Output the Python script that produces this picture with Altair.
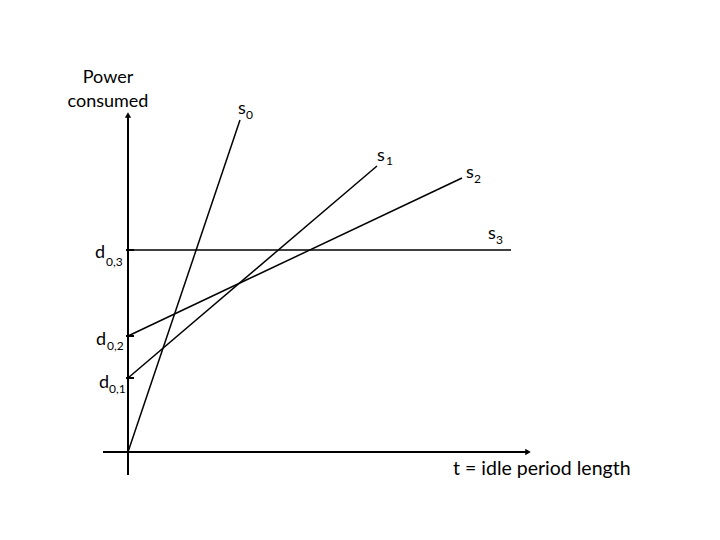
import altair as alt
import pandas as pd

# ---- data (abstract units: t = idle period length, p = power) ----
line_names = ["s0", "s1", "s2", "s3"]
line_t0 = [0.0, 0.0, 0.0, 0.0]
line_p0 = [0.0, 1.85, 2.9, 5.05]
line_t1 = [2.8, 6.225, 8.35, 9.575]
line_p1 = [8.3, 7.15, 6.85, 5.05]

tick_names = ["d0,1", "d0,2", "d0,3"]
tick_values = [1.85, 2.9, 5.05]

axis_x_range = [-0.625, 10.0]
axis_y_range = [-0.575, 8.425]

# label base text + subscript text with anchor positions
base_text = ["s", "s", "s", "s", "d", "d", "d"]
base_t = [2.75, 6.225, 8.45, 9.0, -0.825, -0.8, -0.725]
base_p = [8.45, 7.275, 6.85, 5.325, 4.85, 2.675, 1.6]
sub_text = ["0", "1", "2", "3", "0,3", "0,2", "0,1"]
sub_t = [2.95, 6.45, 8.65, 9.2, -0.55, -0.525, -0.475]
sub_p = [8.325, 7.175, 6.725, 5.2, 4.65, 2.55, 1.475]

title_lines = ["Power", "consumed"]
title_t = [-0.5, -0.5]
title_p = [9.225, 8.625]
xlabel_text = ["t = idle period length"]
xlabel_t = [8.125]
xlabel_p = [-0.575]

FONT = "Lato"

xs = alt.Scale(domain=[-1, 13], nice=False, zero=False)
ys = alt.Scale(domain=[-1, 10], nice=False, zero=False)

lines_df = pd.DataFrame({"name": line_names, "t0": line_t0, "p0": line_p0,
                         "t1": line_t1, "p1": line_p1})
axes_df = pd.DataFrame({
    "t0": [axis_x_range[0], 0.0], "p0": [0.0, axis_y_range[0]],
    "t1": [axis_x_range[1], 0.0], "p1": [0.0, axis_y_range[1]],
})
ticks_df = pd.DataFrame({"name": tick_names, "p": tick_values,
                         "t0": [-0.05] * 3, "t1": [0.15] * 3})
arrows_df = pd.DataFrame({"t": [axis_x_range[1], 0.0],
                          "p": [0.0, axis_y_range[1]],
                          "shape": ["triangle-right", "triangle-up"]})
base_df = pd.DataFrame({"text": base_text, "t": base_t, "p": base_p})
sub_df = pd.DataFrame({"text": sub_text, "t": sub_t, "p": sub_p})
title_df = pd.DataFrame({"text": title_lines, "t": title_t, "p": title_p})
xlabel_df = pd.DataFrame({"text": xlabel_text, "t": xlabel_t, "p": xlabel_p})

X = lambda f: alt.X(f, type="quantitative", scale=xs, axis=None)
Y = lambda f: alt.Y(f, type="quantitative", scale=ys, axis=None)

axes = alt.Chart(axes_df).mark_rule(color="black", strokeWidth=2).encode(
    x=X("t0"), y=Y("p0"), x2="t1", y2="p1")
arrows = alt.Chart(arrows_df).mark_point(filled=True, color="black", size=40, opacity=1).encode(
    x=X("t"), y=Y("p"),
    shape=alt.Shape("shape:N", scale=None))
lines = alt.Chart(lines_df).mark_rule(color="black", strokeWidth=1.5).encode(
    x=X("t0"), y=Y("p0"), x2="t1", y2="p1")
ticks = alt.Chart(ticks_df).mark_rule(color="black", strokeWidth=2).encode(
    x=X("t0"), x2="t1", y=Y("p"))
base = alt.Chart(base_df).mark_text(font=FONT, fontSize=18, align="left",
                                    baseline="alphabetic", color="black").encode(
    x=X("t"), y=Y("p"), text="text:N")
sub = alt.Chart(sub_df).mark_text(font=FONT, fontSize=12, align="left",
                                  baseline="alphabetic", color="black").encode(
    x=X("t"), y=Y("p"), text="text:N")
title = alt.Chart(title_df).mark_text(font=FONT, fontSize=18, align="center",
                                      baseline="alphabetic", color="black").encode(
    x=X("t"), y=Y("p"), text="text:N")
xlabel = alt.Chart(xlabel_df).mark_text(font=FONT, fontSize=19.5, align="left",
                                        baseline="alphabetic", color="black").encode(
    x=X("t"), y=Y("p"), text="text:N")

chart = alt.layer(axes, lines, ticks, arrows, base, sub, title, xlabel).properties(
    width=560, height=440,
    autosize=alt.AutoSizeParams(type="none"),
    padding={"left": 80, "top": 44, "right": 0, "bottom": 0},
    background="white",
).configure_view(stroke=None)

chart.save("out.html", embed_options={"renderer": "svg", "actions": False})
